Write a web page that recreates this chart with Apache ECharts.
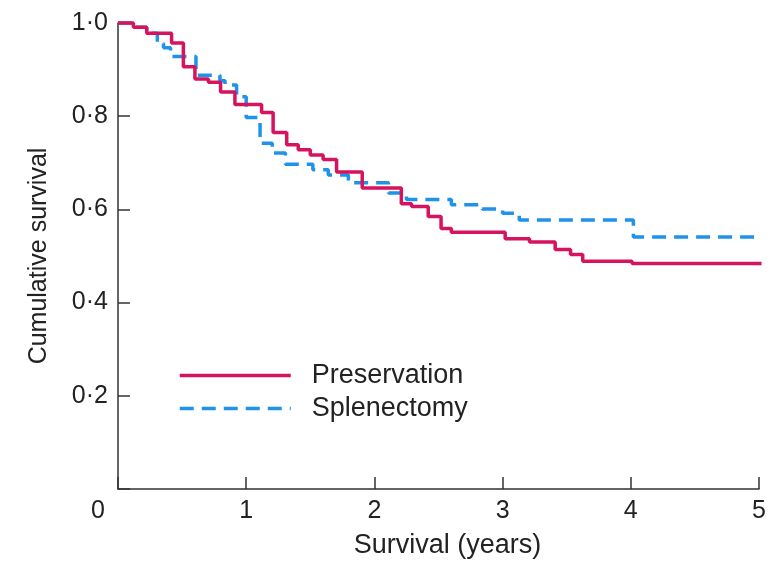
<!DOCTYPE html>
<html>
<head>
<meta charset="utf-8">
<script src="https://cdn.jsdelivr.net/npm/echarts@6/dist/echarts.min.js"></script>
<style>
  html, body { margin: 0; padding: 0; background: #fff; }
  #main { width: 781px; height: 564px; }
</style>
</head>
<body>
<div id="main"></div>
<script type="text/javascript">
    // 数据：Kaplan-Meier 曲线（年份, 累计生存率）
    var seriesNames = ['Preservation', 'Splenectomy'];
    var xTicks = [0, 1, 2, 3, 4, 5];
    var yTicks = [0, 0.2, 0.4, 0.6, 0.8, 1.0];

    var presTimes = [0, 0.12, 0.224, 0.418, 0.51, 0.60, 0.705, 0.80, 0.912, 1.12, 1.21, 1.316, 1.406, 1.50, 1.60, 1.705, 1.905, 2.21, 2.29, 2.42, 2.52, 2.60, 3.02, 3.21, 3.41, 3.53, 3.625, 4.01, 5.02];
    var presValues = [1.0, 0.991, 0.978, 0.957, 0.906, 0.880, 0.873, 0.852, 0.825, 0.808, 0.765, 0.739, 0.728, 0.717, 0.707, 0.680, 0.646, 0.612, 0.606, 0.585, 0.559, 0.551, 0.537, 0.530, 0.514, 0.503, 0.489, 0.484, 0.484];

    var splenTimes = [0, 0.12, 0.224, 0.307, 0.355, 0.41, 0.608, 0.795, 0.835, 0.925, 1.0, 1.108, 1.203, 1.306, 1.52, 1.64, 1.797, 2.11, 2.25, 2.60, 2.84, 3.0, 3.13, 4.02, 5.02];
    var splenValues = [1.0, 0.991, 0.978, 0.956, 0.947, 0.928, 0.888, 0.876, 0.867, 0.842, 0.797, 0.742, 0.721, 0.697, 0.685, 0.674, 0.657, 0.635, 0.621, 0.610, 0.601, 0.592, 0.577, 0.541, 0.541];

    function pairs(xs, ys) {
        var out = [];
        for (var i = 0; i < xs.length; i++) {
            out.push([xs[i], ys[i]]);
        }
        return out;
    }

    var font = 'Liberation Sans, Arial, sans-serif';
    var myChart = echarts.init(document.getElementById('main'));

    var option = {
        animation: false,
        backgroundColor: '#fff',
        grid: { left: 118, right: 22, top: 23, bottom: 74 },
        legend: {
            orient: 'vertical',
            left: 178,
            top: 362,
            padding: 0,
            itemWidth: 111,
            itemHeight: 14,
            itemGap: 6,
            data: seriesNames,
            itemStyle: { color: 'rgba(0,0,0,0)', borderWidth: 0, opacity: 0 },
            lineStyle: { width: 3.5 },
            textStyle: {
                fontFamily: font,
                fontSize: 27,
                lineHeight: 27,
                color: '#222',
                padding: [0, 0, 0, 16]
            }
        },
        xAxis: {
            type: 'value',
            min: xTicks[0],
            max: xTicks[xTicks.length - 1],
            interval: 1,
            name: 'Survival (years)',
            nameLocation: 'middle',
            nameGap: 43,
            nameTextStyle: { fontFamily: font, fontSize: 27, color: '#222', padding: [0, 0, 0, 18] },
            splitLine: { show: false },
            axisLine: { lineStyle: { color: '#333', width: 1.5 } },
            axisTick: { inside: true, length: 12, lineStyle: { color: '#333', width: 1.5 } },
            axisLabel: {
                margin: 10,
                fontFamily: font,
                fontSize: 25,
                color: '#222',
                formatter: function (v) {
                    return v === 0 ? '{o|0}' : String(v);
                },
                rich: {
                    o: { fontFamily: font, fontSize: 25, color: '#222', padding: [0, 40, 0, 0] }
                }
            }
        },
        yAxis: {
            type: 'value',
            min: yTicks[0],
            max: yTicks[yTicks.length - 1],
            interval: 0.2,
            name: 'Cumulative survival',
            nameLocation: 'middle',
            nameGap: 66,
            nameRotate: 90,
            nameTextStyle: { fontFamily: font, fontSize: 25, color: '#222' },
            splitLine: { show: false },
            axisLine: { show: true, lineStyle: { color: '#333', width: 1.5 } },
            axisTick: { show: true, inside: true, length: 12, lineStyle: { color: '#333', width: 1.5 } },
            axisLabel: {
                margin: 10,
                fontFamily: font,
                fontSize: 25,
                color: '#222',
                formatter: function (v) {
                    if (v === 0) return '';
                    return v.toFixed(1).replace('.', '·');
                }
            }
        },
        series: [
            {
                name: seriesNames[0],
                type: 'line',
                step: 'end',
                symbol: 'none',
                clip: false,
                z: 3,
                color: '#d6135f',
                lineStyle: { color: '#d6135f', width: 3.5 },
                data: pairs(presTimes, presValues)
            },
            {
                name: seriesNames[1],
                type: 'line',
                step: 'end',
                symbol: 'none',
                clip: false,
                z: 2,
                color: '#1f93ea',
                lineStyle: { color: '#1f93ea', width: 3.5, type: [14, 8] },
                data: pairs(splenTimes, splenValues)
            }
        ]
    };

    myChart.setOption(option);
</script>
</body>
</html>
